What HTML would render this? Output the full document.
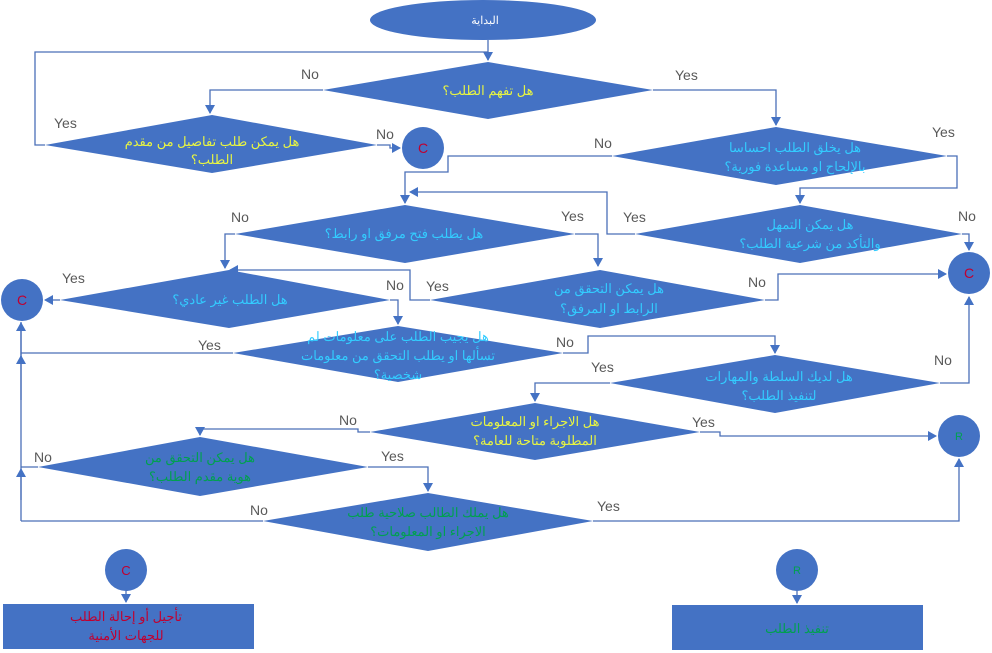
<!DOCTYPE html>
<html><head><meta charset="utf-8"><style>
html,body{margin:0;padding:0;background:#fff;}
svg{display:block;}
.l{font-family:"Liberation Sans",sans-serif;font-size:14px;fill:#595959;}
.t{font-family:"Liberation Sans","Noto Sans CJK SC",sans-serif;font-size:13px;text-anchor:middle;}
.y{fill:#e8f542;} .c{fill:#33ccff;} .g{fill:#00a050;} .r{fill:#c00030;}
</style></head><body>
<svg width="992" height="653" viewBox="0 0 992 653" xmlns="http://www.w3.org/2000/svg">
<defs><marker id="a" markerWidth="10" markerHeight="10" refX="8" refY="5" orient="auto" markerUnits="userSpaceOnUse"><path d="M0,0 L9,5 L0,10 z" fill="#4472C4"/></marker></defs>
<g fill="none" stroke="#4a6fb8" stroke-width="1.3">
<path d="M488,40 V60" marker-end="url(#a)"/>
<path d="M323,90 H210 V113" marker-end="url(#a)"/>
<path d="M653,90 H776 V125" marker-end="url(#a)"/>
<path d="M45,145 H35 V52 H488"/>
<path d="M377,145 H390 V148 H400" marker-end="url(#a)"/>
<path d="M612,156 H448 V172 H405 V203" marker-end="url(#a)"/>
<path d="M947,156 H957 V188 H800 V203" marker-end="url(#a)"/>
<path d="M635,234 H607 V192 H410" marker-end="url(#a)"/>
<path d="M962,234 H969 V250" marker-end="url(#a)"/>
<path d="M575,234 H598 V266" marker-end="url(#a)"/>
<path d="M235,234 H225 V268" marker-end="url(#a)"/>
<path d="M765,300 H778 V274 H946" marker-end="url(#a)"/>
<path d="M430,300 H410 V270 H230" marker-end="url(#a)"/>
<path d="M60,300 H45" marker-end="url(#a)"/>
<path d="M390,300 H398 V324" marker-end="url(#a)"/>
<path d="M233,353 H21"/>
<path d="M21,521 V322" />
<path d="M21,360 V323" marker-end="url(#a)"/>
<path d="M21,400 V356" marker-end="url(#a)"/>
<path d="M21,500 V469" marker-end="url(#a)"/>
<path d="M563,353 H588 V336 H775 V353" marker-end="url(#a)"/>
<path d="M940,383 H969 V297" marker-end="url(#a)"/>
<path d="M610,383 H535 V401" marker-end="url(#a)"/>
<path d="M700,432 H720 V436 H936" marker-end="url(#a)"/>
<path d="M370,432 H358 V429 H200 V435" marker-end="url(#a)"/>
<path d="M38,467 H21"/>
<path d="M368,467 H428 V491" marker-end="url(#a)"/>
<path d="M263,521 H21"/>
<path d="M593,521 H959 V459" marker-end="url(#a)"/>
<path d="M126,591 V602" marker-end="url(#a)"/>
<path d="M797,591 V603" marker-end="url(#a)"/>
</g>
<g fill="#4472C4">
<ellipse cx="483" cy="20" rx="113" ry="20"/>
<polygon points="323,90 488,62 653,90 488,119"/>
<polygon points="45,145 212,115 377,145 212,173"/>
<polygon points="612,156 776,127 947,156 776,185"/>
<polygon points="635,234 800,205 962,234 800,263"/>
<polygon points="235,234 405,205 575,234 405,263"/>
<polygon points="430,300 600,270 765,300 600,328"/>
<polygon points="60,300 229,270 390,300 229,328"/>
<polygon points="233,353 398,326 563,353 398,382"/>
<polygon points="610,383 775,355 940,383 775,413"/>
<polygon points="370,432 535,403 700,432 535,460"/>
<polygon points="38,467 200,437 368,467 200,496"/>
<polygon points="263,521 428,493 593,521 428,551"/>
<circle cx="423" cy="148" r="21"/>
<circle cx="969" cy="273" r="21"/>
<circle cx="22" cy="300" r="21"/>
<circle cx="959" cy="436" r="21"/>
<circle cx="126" cy="570" r="21"/>
<circle cx="797" cy="570" r="21"/>
<rect x="3" y="604" width="251" height="45"/>
<rect x="672" y="605" width="251" height="45"/>
</g>
<g class="l">
<text x="301" y="79">No</text><text x="675" y="80">Yes</text>
<text x="54" y="128">Yes</text><text x="376" y="139">No</text>
<text x="594" y="148">No</text><text x="932" y="137">Yes</text>
<text x="231" y="222">No</text><text x="561" y="221">Yes</text>
<text x="623" y="222">Yes</text><text x="958" y="221">No</text>
<text x="62" y="283">Yes</text><text x="386" y="290">No</text>
<text x="426" y="291">Yes</text><text x="748" y="287">No</text>
<text x="198" y="350">Yes</text><text x="556" y="347">No</text>
<text x="591" y="372">Yes</text><text x="934" y="365">No</text>
<text x="339" y="425">No</text><text x="692" y="427">Yes</text>
<text x="34" y="462">No</text><text x="381" y="461">Yes</text>
<text x="250" y="515">No</text><text x="597" y="511">Yes</text>
</g>
<g class="t">
<text x="485" y="24" fill="#fff" font-size="11">البداية</text>
<text x="488" y="95" class="y">هل تفهم الطلب؟</text>
<text x="212" y="146" class="y">هل يمكن طلب تفاصيل من مقدم</text>
<text x="212" y="164" class="y">الطلب؟</text>
<text x="423" y="153" class="r" font-size="14">C</text>
<text x="795" y="152" class="c">هل يخلق الطلب احساسا</text>
<text x="795" y="171" class="c">بالإلحاح او مساعدة فورية؟</text>
<text x="810" y="229" class="c">هل يمكن التمهل</text>
<text x="810" y="248" class="c">والتأكد من شرعية الطلب؟</text>
<text x="404" y="238" class="c">هل يطلب فتح مرفق او رابط؟</text>
<text x="609" y="293" class="c">هل يمكن التحقق من</text>
<text x="609" y="313" class="c">الرابط او المرفق؟</text>
<text x="969" y="278" class="r" font-size="14">C</text>
<text x="230" y="304" class="c">هل الطلب غير عادي؟</text>
<text x="22" y="305" class="r" font-size="14">C</text>
<text x="398" y="341" class="c">هل يجيب الطلب على معلومات لم</text>
<text x="398" y="360" class="c">تسألها او يطلب التحقق من معلومات</text>
<text x="398" y="379" class="c">شخصية؟</text>
<text x="779" y="381" class="c">هل لديك السلطة والمهارات</text>
<text x="779" y="400" class="c">لتنفيذ الطلب؟</text>
<text x="535" y="426" class="y">هل الاجراء او المعلومات</text>
<text x="535" y="445" class="y">المطلوبة متاحة للعامة؟</text>
<text x="959" y="440" class="g" font-size="11">R</text>
<text x="200" y="462" class="g">هل يمكن التحقق من</text>
<text x="200" y="481" class="g">هوية مقدم الطلب؟</text>
<text x="428" y="517" class="g">هل يملك الطالب صلاحية طلب</text>
<text x="428" y="536" class="g">الاجراء او المعلومات؟</text>
<text x="126" y="575" class="r" font-size="13">C</text>
<text x="797" y="574" class="g" font-size="11">R</text>
<text x="126" y="621" class="r">تأجيل أو إحالة الطلب</text>
<text x="126" y="640" class="r">للجهات الأمنية</text>
<text x="797" y="633" class="g">تنفيذ الطلب</text>
</g>
</svg>
</body></html>
